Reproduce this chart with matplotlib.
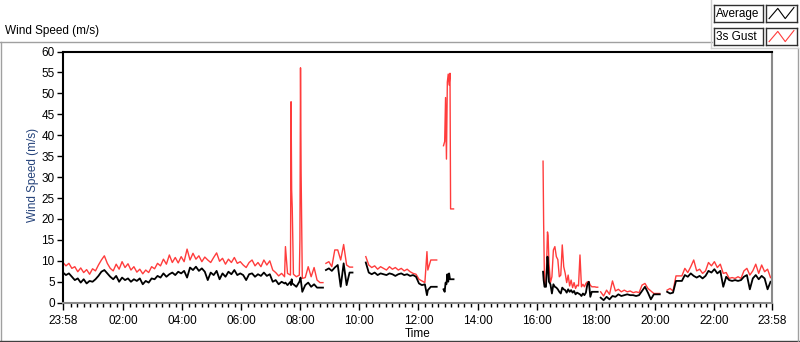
import numpy as np
import matplotlib.pyplot as plt
from matplotlib.lines import Line2D

plt.rcParams['font.family'] = ['Liberation Sans', 'DejaVu Sans']
plt.rcParams['font.size'] = 8

# time is in hours since 23:58 (start of the record)
# segment 1: 23:58 -> ~08:50, one reading every 0.1 h
seg1_start, seg1_step = 0.0, 0.1
seg1_gust = [9.6, 8.8, 9.4, 8.2, 8.6, 7.4, 8.3, 7.2, 7.9, 6.8,
             8.1, 7.6, 9.0, 10.2, 11.2, 9.4, 8.2, 7.6, 9.2, 8.0,
             9.8, 8.4, 9.3, 7.8, 8.6, 7.3, 8.0, 6.9, 7.8, 7.2,
             8.6, 8.1, 9.4, 8.8, 10.4, 9.2, 11.4, 9.6, 10.8, 9.5,
             11.0, 9.8, 12.8, 10.2, 11.8, 10.4, 11.2, 9.8, 10.9, 10.2,
             9.6, 10.8, 11.9, 9.9, 10.6, 9.2, 10.4, 9.6, 10.8, 9.4,
             9.8, 9.0, 8.4, 9.6, 10.2, 8.8, 9.6, 8.6, 10.2, 9.0,
             10.0, 7.8, 7.2, 6.4, 7.0, 6.2, 7.0, 6.6, 6.8, 6.2,
             6.6, 5.8, 6.0, 8.6, 6.2, 8.4, 5.4, 4.8, 4.8]
seg1_avg = [7.2, 6.6, 7.0, 6.2, 5.4, 5.8, 4.8, 5.6, 4.6, 5.2,
            5.0, 5.6, 6.4, 7.4, 7.8, 7.0, 6.2, 5.6, 6.4, 5.0,
            6.0, 5.4, 5.8, 5.0, 5.6, 5.2, 5.8, 4.4, 5.2, 4.8,
            5.8, 5.6, 6.4, 6.0, 7.0, 6.2, 6.8, 7.2, 6.6, 7.4,
            7.0, 7.6, 6.0, 8.4, 7.8, 8.6, 7.6, 8.2, 7.4, 5.4,
            7.2, 6.6, 7.6, 5.6, 7.0, 6.2, 7.4, 6.8, 7.8, 6.6,
            7.0, 6.6, 5.4, 6.8, 7.0, 6.2, 6.8, 6.4, 7.2, 6.4,
            6.8, 5.0, 5.4, 4.4, 5.0, 4.6, 4.2, 5.0, 4.4, 3.8,
            5.0, 2.6, 4.2, 4.8, 3.8, 4.4, 3.6, 3.6, 3.6]
# gust spikes around 07:30 - 08:00
seg1_spike_hours = [7.53, 7.72, 7.74, 7.76, 8.02, 8.04, 8.06]
seg1_spike_gust = [13.4, 48.0, 26.9, 22.6, 15.2, 56.1, 31.0]
seg1_spike_avg = [4.8, 4.2, 5.6, 4.6, 5.4, 6.0, 4.8]

seg2_start, seg2_step = 8.9, 0.1
seg2_gust = [9.4, 9.8, 8.6, 12.6, 12.6, 10.2, 13.9, 9.0, 8.5, 8.5]
seg2_avg = [7.8, 8.2, 7.6, 8.4, 9.0, 3.8, 9.4, 4.2, 7.2, 7.2]

seg3_start, seg3_step = 10.25, 0.1
seg3_gust = [11.0, 9.0, 8.4, 8.8, 8.0, 8.6, 8.2, 7.8, 8.6, 8.0,
             8.4, 7.8, 8.2, 7.6, 8.0, 7.4, 7.0, 6.8, 5.6, 5.2,
             4.8, 7.8, 10.2, 10.2, 10.2]
seg3_avg = [9.6, 7.2, 6.8, 7.2, 6.6, 7.0, 6.8, 6.6, 7.0, 6.8,
            6.4, 6.8, 7.0, 6.6, 6.8, 6.4, 6.6, 6.2, 4.6, 4.2,
            4.4, 3.0, 3.8, 3.8, 3.8]
seg3_spike_hours = [12.32]
seg3_spike_gust = [12.2]
seg3_spike_avg = [1.8]

# the big gust burst just before 13:00
seg4_hours = [12.88, 12.92, 12.95, 12.98, 13.01, 13.04, 13.07, 13.10, 13.12, 13.22]
seg4_gust = [37.5, 38.5, 49.0, 34.3, 52.7, 54.6, 52.0, 54.8, 22.4, 22.4]
seg4_avg = [3.2, 2.6, 4.8, 4.4, 6.8, 5.0, 7.0, 5.6, 5.6, 5.6]

seg5_start, seg5_step = 16.25, 0.05
seg5_gust = [33.8, 4.2, 4.0, 16.9, 9.5, 4.8, 6.2, 12.6, 13.4, 11.0,
             10.3, 6.2, 6.6, 13.8, 8.6, 7.0, 4.8, 6.6, 4.0, 5.4,
             3.6, 4.8, 3.4, 4.2, 4.0, 11.4, 3.8, 4.4, 3.8, 4.6,
             5.0, 5.0, 4.2, 3.8, 3.8, 3.8, 3.7, 3.7]
seg5_avg = [7.4, 3.8, 3.8, 11.0, 5.0, 4.4, 2.2, 4.4, 3.8, 3.6,
            3.2, 2.6, 2.2, 3.6, 3.2, 3.0, 2.4, 3.2, 2.6, 3.0,
            2.4, 2.8, 2.0, 2.4, 2.2, 2.0, 1.6, 2.2, 1.8, 2.4,
            4.4, 5.0, 1.4, 2.6, 2.6, 2.6, 2.6, 2.6]
seg5_spike_hours = [16.27, 16.42]
seg5_spike_gust = [18.9, 16.0]
seg5_spike_avg = [5.4, 9.0]

seg6_start, seg6_step = 18.2, 0.1
seg6_gust = [2.6, 1.6, 3.0, 2.0, 5.2, 2.8, 3.2, 2.6, 3.0, 2.6,
             2.8, 2.4, 2.6, 2.4, 4.2, 4.6, 3.4, 2.8, 2.2, 2.2, 2.2]
seg6_avg = [1.2, 0.6, 1.4, 0.8, 1.6, 1.4, 2.0, 1.6, 1.8, 2.0,
            1.8, 1.8, 1.6, 1.8, 2.8, 3.8, 2.4, 0.8, 2.0, 2.0, 2.0]

seg7_start, seg7_step = 20.45, 0.1
seg7_gust = [3.0, 3.4, 2.8, 6.4, 6.4, 6.4, 8.2, 7.2, 8.6, 10.2,
             7.6, 8.0, 7.0, 7.6, 9.6, 8.8, 9.8, 8.4, 9.2, 7.0,
             7.2, 5.8, 6.0, 5.8, 6.2, 5.8, 7.6, 8.2, 6.6, 7.6,
             9.2, 7.0, 9.0, 7.4, 8.0, 6.0]
seg7_avg = [2.6, 2.2, 2.4, 5.2, 5.2, 5.2, 6.6, 6.2, 7.0, 6.4,
            6.0, 6.4, 5.8, 6.4, 7.6, 7.2, 8.0, 7.0, 7.6, 3.8,
            6.2, 5.4, 5.2, 5.4, 5.2, 5.4, 6.2, 6.6, 3.2, 5.8,
            6.6, 5.6, 6.4, 5.8, 3.2, 5.0]

tick_hours = [0.0] + [2 + 2 / 60 + 2 * k for k in range(11)] + [24.0]
tick_labels = ['23:58', '02:00', '04:00', '06:00', '08:00', '10:00', '12:00',
               '14:00', '16:00', '18:00', '20:00', '22:00', '23:58']


def regular(start, step, avg, gust, sh=(), sa=(), sg=()):
    h = np.concatenate([start + step * np.arange(len(avg)), sh])
    a = np.concatenate([avg, sa])
    g = np.concatenate([gust, sg])
    order = np.argsort(h)
    return h[order], a[order], g[order]


segments = [
    regular(seg1_start, seg1_step, seg1_avg, seg1_gust,
            seg1_spike_hours, seg1_spike_avg, seg1_spike_gust),
    regular(seg2_start, seg2_step, seg2_avg, seg2_gust),
    regular(seg3_start, seg3_step, seg3_avg, seg3_gust,
            seg3_spike_hours, seg3_spike_avg, seg3_spike_gust),
    (np.array(seg4_hours), np.array(seg4_avg), np.array(seg4_gust)),
    regular(seg5_start, seg5_step, seg5_avg, seg5_gust,
            seg5_spike_hours, seg5_spike_avg, seg5_spike_gust),
    regular(seg6_start, seg6_step, seg6_avg, seg6_gust),
    regular(seg7_start, seg7_step, seg7_avg, seg7_gust),
]

hours, avg, gust = [], [], []
for h, a, g in segments:
    hours += list(h) + [h[-1] + 0.01]
    avg += list(a) + [np.nan]
    gust += list(g) + [np.nan]

W, H = 800, 342


def fx(px):
    return px / W


def fy(py):
    return 1 - py / H


fig = plt.figure(figsize=(8, 3.42), dpi=100)
fig.patch.set_facecolor('white')

ax = fig.add_axes([fx(63), fy(302.7), fx(772) - fx(63), fy(51.5) - fy(302.7)])
ax.plot(hours, gust, color='#ff3c3c', lw=1.0)
ax.plot(hours, avg, color='black', lw=1.3)

ax.set_xlim(0, 24)
ax.set_ylim(0, 60)
ax.set_yticks(range(0, 61, 5))
ax.set_xticks(tick_hours)
ax.set_xticklabels(tick_labels)
minor = [m for m in np.arange(2 + 2 / 60 - 2, 24, 2 / 9)
         if min(abs(m - t) for t in tick_hours) > 0.05]
ax.set_xticks(minor, minor=True)
ax.tick_params(axis='x', which='major', length=5, width=1, pad=4)
ax.tick_params(axis='x', which='minor', length=3, width=1)
ax.tick_params(axis='y', length=4, width=1, pad=2)
ax.tick_params(labelsize=8.5)

for s in ['top', 'left']:
    ax.spines[s].set_color('black')
    ax.spines[s].set_linewidth(1.5)
for s in ['bottom', 'right']:
    ax.spines[s].set_color('#8a8a8a')
    ax.spines[s].set_linewidth(1.5)

# axis names
fig.text(fx(33), fy(175), 'Wind Speed (m/s)', color='#24427a', fontsize=8.5,
         rotation=90, ha='center', va='center')
fig.text(fx(418), fy(334), 'Time', fontsize=8.5, ha='center', va='center')

# chart frame and caption
fig.text(fx(5), fy(31), 'Wind Speed (m/s)', fontsize=8.5, va='center')
frame = '#a0a0a0'
fig.add_artist(Line2D([fx(0), fx(712)], [fy(42), fy(42)], color=frame, lw=1))
fig.add_artist(Line2D([fx(1), fx(1)], [fy(42), fy(341)], color=frame, lw=1))
fig.add_artist(Line2D([fx(0), fx(800)], [fy(341), fy(341)], color='#404040', lw=1))
fig.add_artist(Line2D([fx(798), fx(798)], [fy(48), fy(341)], color=frame, lw=1))
fig.add_artist(Line2D([fx(711), fx(711)], [fy(0), fy(48)], color='#d0d0d0', lw=1))
fig.add_artist(Line2D([fx(711), fx(798)], [fy(48), fy(48)], color='#d0d0d0', lw=1))

# legend
legend_names = ['Average', '3s Gust']
legend_colors = ['black', '#ff3c3c']
for i, (name, col) in enumerate(zip(legend_names, legend_colors)):
    top = 5 + i * 23
    box = fig.add_axes([fx(714), fy(top + 17), fx(763) - fx(714), fy(top) - fy(top + 17)])
    box.set_xticks([])
    box.set_yticks([])
    box.text(0.04, 0.45, name, fontsize=8.5, va='center', ha='left', transform=box.transAxes)
    icon = fig.add_axes([fx(766), fy(top + 17), fx(797) - fx(766), fy(top) - fy(top + 17)])
    icon.set_xticks([])
    icon.set_yticks([])
    icon.plot([0.1, 0.38, 0.62, 0.9], [0.2, 0.8, 0.2, 0.85], color=col, lw=0.8)
    icon.set_xlim(0, 1)
    icon.set_ylim(0, 1)
    for a in (box, icon):
        for s in a.spines.values():
            s.set_color('#303030')
            s.set_linewidth(1)

fig.savefig('out.png', dpi=100)
